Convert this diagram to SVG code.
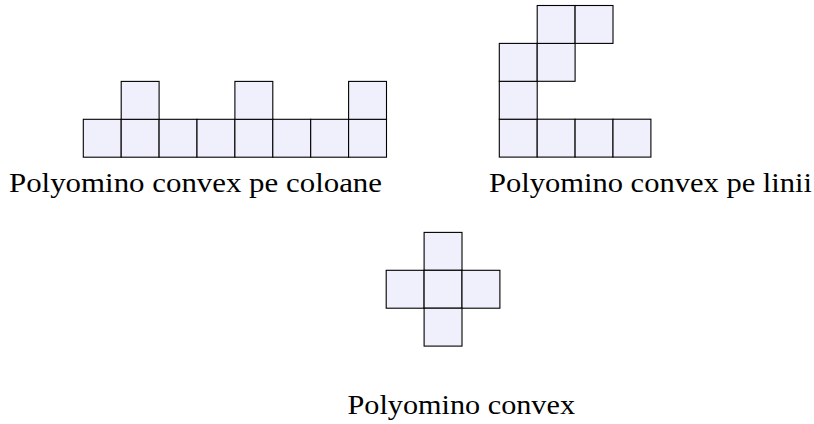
<svg xmlns="http://www.w3.org/2000/svg" width="814" height="424" viewBox="0 0 814 424">
  <style>
    .cell { fill: #f0f0fc; stroke: #000; stroke-width: 1.1; }
    .cap { font-family: 'Liberation Serif', 'Times New Roman', Times, serif; font-size: 27px; fill: #000; }
  </style>
  <defs>
    <rect id="sq" class="cell" width="37.9" height="37.9"/>
  </defs>
  <rect width="814" height="424" fill="#fff"/>

  <!-- column-convex polyomino -->
  <g id="poly-columns">
    <use href="#sq" x="83.3" y="119.3"/>
    <use href="#sq" x="121.2" y="119.3"/>
    <use href="#sq" x="159.1" y="119.3"/>
    <use href="#sq" x="197" y="119.3"/>
    <use href="#sq" x="234.9" y="119.3"/>
    <use href="#sq" x="272.8" y="119.3"/>
    <use href="#sq" x="310.7" y="119.3"/>
    <use href="#sq" x="348.6" y="119.3"/>
    <use href="#sq" x="121.2" y="81.4"/>
    <use href="#sq" x="234.9" y="81.4"/>
    <use href="#sq" x="348.6" y="81.4"/>
    <text class="cap" x="9" y="192" textLength="373" lengthAdjust="spacingAndGlyphs">Polyomino convex pe coloane</text>
  </g>

  <!-- row-convex polyomino -->
  <g id="poly-rows">
    <use href="#sq" x="499.3" y="119.2"/>
    <use href="#sq" x="537.2" y="119.2"/>
    <use href="#sq" x="575.1" y="119.2"/>
    <use href="#sq" x="613" y="119.2"/>
    <use href="#sq" x="499.3" y="81.3"/>
    <use href="#sq" x="499.3" y="43.4"/>
    <use href="#sq" x="537.2" y="43.4"/>
    <use href="#sq" x="537.2" y="5.5"/>
    <use href="#sq" x="575.1" y="5.5"/>
    <text class="cap" x="489" y="192" textLength="323" lengthAdjust="spacingAndGlyphs">Polyomino convex pe linii</text>
  </g>

  <!-- convex polyomino (cross) -->
  <g id="poly-convex">
    <use href="#sq" x="424.1" y="232.4"/>
    <use href="#sq" x="386.2" y="270.3"/>
    <use href="#sq" x="424.1" y="270.3"/>
    <use href="#sq" x="462" y="270.3"/>
    <use href="#sq" x="424.1" y="308.2"/>
    <text class="cap" x="347.5" y="414" textLength="227.5" lengthAdjust="spacingAndGlyphs">Polyomino convex</text>
  </g>
</svg>
